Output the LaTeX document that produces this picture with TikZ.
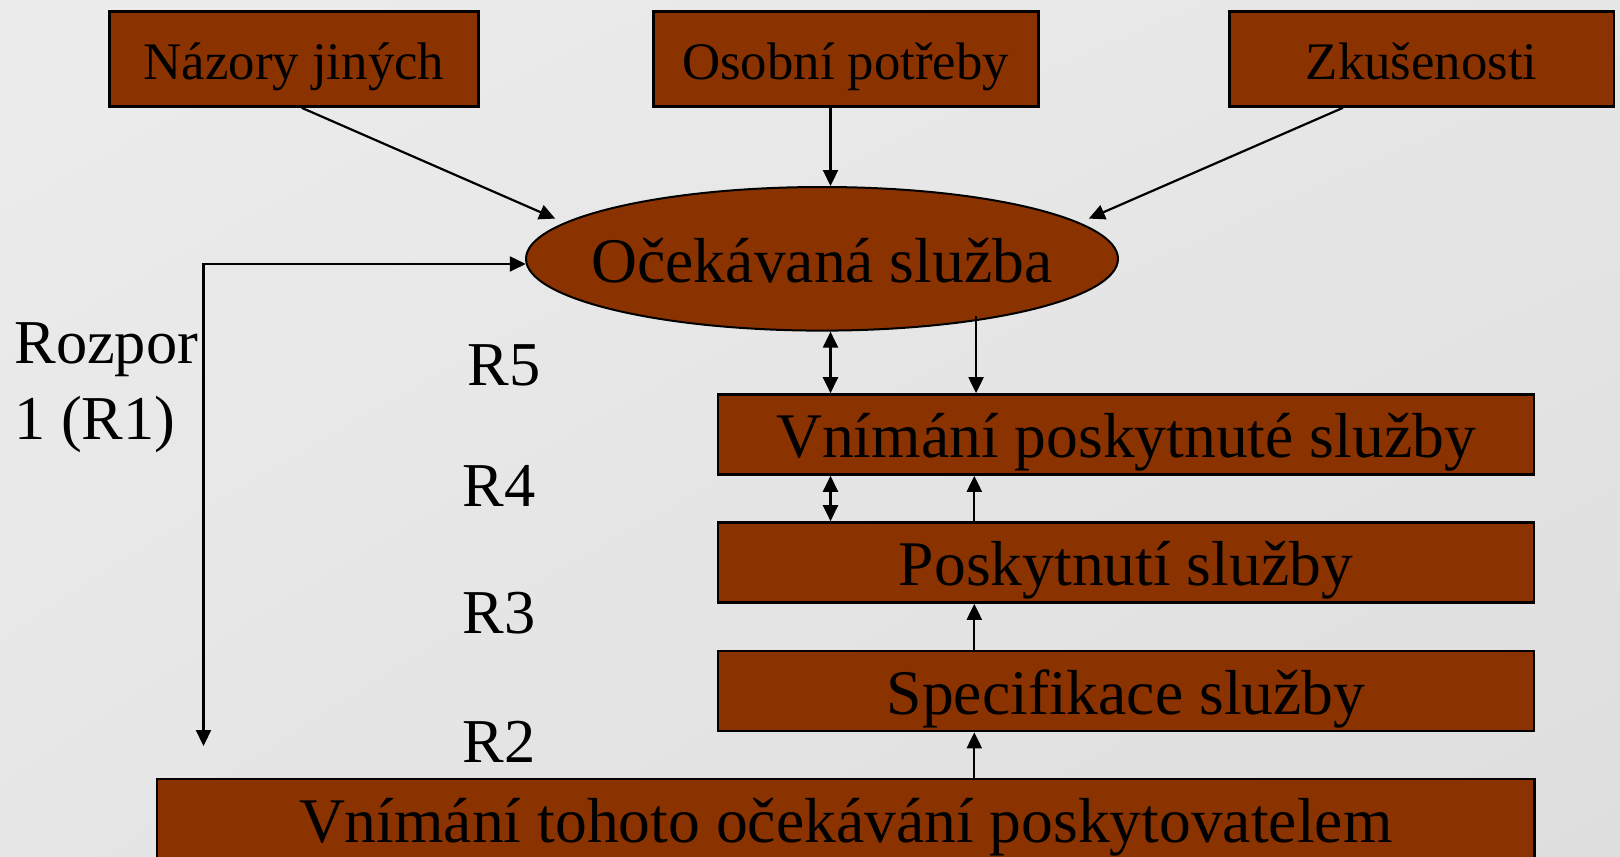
\documentclass[tikz,border=0pt]{standalone}
\usepackage{fontspec}
\setmainfont{Liberation Serif}
\usetikzlibrary{arrows.meta,shapes.geometric,shadings}
\definecolor{boxfill}{RGB}{139,51,0}
\definecolor{bgA}{RGB}{236,236,236}
\definecolor{bgM}{RGB}{230,230,230}
\definecolor{bgB}{RGB}{222,222,222}
\newcommand\blt[2]{\makebox[0pt]{\raisebox{-#1}[0pt][0pt]{#2}}}
\begin{document}
\begin{tikzpicture}[x=0.5pt,y=-0.5pt,
  boxshape/.style={draw=black, line width=1.3pt, fill=boxfill, inner sep=0pt, text=black},
  topbox/.style={boxshape, minimum height=47.5pt, font=\fontsize{26.4}{32}\selectfont},
  midbox/.style={boxshape, minimum width=408pt, minimum height=40pt, font=\fontsize{31.8}{38}\selectfont},
  ellbox/.style={ellipse, draw=black, line width=1pt, fill=boxfill, inner sep=0pt,
     minimum width=296pt, minimum height=71.8pt, font=\fontsize{31.8}{38}\selectfont},
  lbl/.style={anchor=base west, inner sep=0pt, font=\fontsize{31.2}{38}\selectfont},
  arr/.style={line width=1.1pt, -{Triangle[length=8pt,width=7.5pt]}},
  arrboth/.style={line width=1.1pt, {Triangle[length=8pt,width=7.5pt]}-{Triangle[length=8pt,width=7.5pt]}}]
\useasboundingbox (0,0) rectangle (1620,856);
\shade[upper left=bgA, upper right=bgM, lower left=bgM, lower right=bgB] (0,0) rectangle (1620,856);

% top boxes
\node[topbox, minimum width=184.5pt] (nj) at (294,59) {\blt{10.15pt}{Názory jiných}};
\node[topbox, minimum width=192.5pt] (op) at (845.7,59) {\blt{10.15pt}{Osobní potřeby}};
\node[topbox, minimum width=192.2pt] (zk) at (1421.7,59) {\blt{10.15pt}{Zkušenosti}};

% ellipse
\node[ellbox] (ell) at (822,258.8) {\blt{11.95pt}{Očekávaná služba}};

% stacked boxes
\node[midbox] (vps) at (1126,434.5) {\blt{11.5pt}{Vnímání poskytnuté služby}};
\node[midbox] (ps) at (1126,562.5) {\blt{11.5pt}{Poskytnutí služby}};
\node[midbox] (ss) at (1126,691) {\blt{11.5pt}{Specifikace služby}};
\node[boxshape, minimum width=688.65pt, minimum height=40pt, font=\fontsize{31.8}{38}\selectfont] (vto) at (845.7,819) {\blt{11.5pt}{Vnímání tohoto očekávání poskytovatelem}};

% labels
\node[lbl] (r1a) at (14,363.3) {Rozpor};
\node[lbl] (r1b) at (14,439.3) {1 (R1)};
\node[lbl] (r5) at (467,385) {R5};
\node[lbl] (r4) at (462,506.3) {R4};
\node[lbl] (r3) at (462,633.4) {R3};
\node[lbl] (r2) at (462,762.5) {R2};

% helper coordinates
\coordinate (ca) at (830.5,0);
\coordinate (cb) at (974.3,0);
\coordinate (fb) at (203.5,746);

% arrows from top boxes
\draw[arr, shorten >=5pt] ([xshift=3.85pt]nj.south) -- (ell.172);
\draw[arr] (ca |- op.south) -- (ca |- ell.north);
\draw[arr, shorten >=5pt] ([xshift=-39.35pt]zk.south) -- (ell.8);

% feedback
\draw[arrboth] (fb) |- (ell.181.5);

% ellipse to vps
\draw[arrboth] (ca |- ell.south) -- (ca |- vps.north);
\draw[arr] ([yshift=2.5pt]ell.-22) -- (ell.-22 |- vps.north);

% vps to ps
\draw[arrboth] (ca |- vps.south) -- (ca |- ps.north);
\draw[arr] (cb |- ps.north) -- (cb |- vps.south);

% ss to ps, vto to ss
\draw[arr] (cb |- ss.north) -- (cb |- ps.south);
\draw[arr] (cb |- vto.north) -- (cb |- ss.south);
\end{tikzpicture}
\end{document}
